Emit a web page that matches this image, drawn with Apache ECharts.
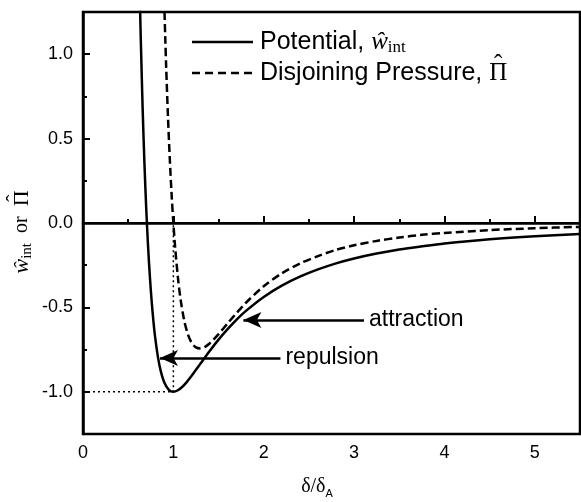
<!DOCTYPE html>
<html>
<head>
<meta charset="utf-8">
<script src="https://cdn.jsdelivr.net/npm/echarts@6/dist/echarts.min.js"></script>
<style>
html,body{margin:0;padding:0;background:#fff;}
#chart{width:581px;height:502px;}
</style>
</head>
<body>
<div id="chart"></div>
<script>
// Potential curve
const potX = [0.632,0.64,0.66,0.68,0.70,0.72,0.74,0.76,0.78,0.80,0.83,0.86,0.90,0.95,1.0,1.05,1.1,1.15,1.2,1.25,1.3,1.4,1.5,1.6,1.7,1.8,2.0,2.2,2.4,2.6,2.8,3.0,3.25,3.5,3.75,4.0,4.5,5.0,5.5];
const potY = [1.26,1.078,0.679,0.352,0.083,-0.137,-0.317,-0.465,-0.586,-0.684,-0.796,-0.876,-0.945,-0.988,-1.0,-0.991,-0.970,-0.941,-0.907,-0.870,-0.833,-0.760,-0.691,-0.629,-0.572,-0.522,-0.438,-0.371,-0.318,-0.275,-0.239,-0.210,-0.181,-0.157,-0.138,-0.121,-0.096,-0.078,-0.065];
// Disjoining pressure curve
const piX = [0.902,0.91,0.92,0.94,0.96,0.98,1.0,1.02,1.05,1.08,1.12,1.16,1.2,1.25,1.3,1.35,1.4,1.5,1.6,1.7,1.8,2.0,2.2,2.4,2.6,2.8,3.0,3.25,3.5,3.75,4.0,4.5,5.0,5.5];
const piY = [1.25,1.102,0.932,0.634,0.385,0.175,0,-0.146,-0.321,-0.453,-0.577,-0.658,-0.707,-0.737,-0.743,-0.734,-0.714,-0.658,-0.595,-0.533,-0.474,-0.375,-0.298,-0.240,-0.196,-0.159,-0.132,-0.106,-0.086,-0.070,-0.059,-0.042,-0.031,-0.023];
// Dotted guide to the minimum
const guideX = [0, 1, 1];
const guideY = [-1, -1, 0];
// Tick labels
const xTicks = [0, 1, 2, 3, 4, 5];
const xMinor = [0.5, 1.5, 2.5, 3.5, 4.5, 5.5];
const yTicks = [-1.0, -0.5, 0.0, 0.5, 1.0];
const yMinor = [-0.75, -0.25, 0.25, 0.75];
// Annotation arrows: [tipX, tailX, y, label]
const attraction = [1.775, 3.11, -0.575, 'attraction'];
const repulsion = [0.852, 2.185, -0.80, 'repulsion'];
// Series names (legend)
const seriesNames = ['Potential', 'Disjoining Pressure'];

const zip = (a, b) => a.map((v, i) => [v, b[i]]);
const SANS = '"Liberation Sans", Arial, sans-serif';
const SERIF = '"Liberation Serif", "Times New Roman", serif';

const mctx = document.createElement('canvas').getContext('2d');
function tw(font, s) { mctx.font = font; return mctx.measureText(s).width; }
function fontStr(p) { return (p.italic ? 'italic ' : '') + p.size + 'px ' + p.family; }

// Lay out text pieces left to right; returns graphic text elements
function pieces(list, x0, y0) {
  const out = [];
  let x = x0;
  list.forEach(p => {
    const f = fontStr(p);
    const w = tw(f, p.t);
    out.push({type: 'text', x: x, y: y0 + (p.dy || 0), silent: true,
      style: {text: p.t, font: f, fill: '#000', align: 'left', verticalAlign: 'middle'}});
    if (p.hat) {
      out.push({type: 'text', x: x + w / 2, y: y0 - p.size * 0.30, silent: true,
        style: {text: 'ˆ', font: p.size + 'px ' + SERIF, fill: '#000', align: 'center', verticalAlign: 'middle'}});
    }
    x += w;
  });
  return out;
}
function piecesWidth(list) { return list.reduce((s, p) => s + tw(fontStr(p), p.t), 0); }

const chart = echarts.init(document.getElementById('chart'));

function arrowLine(a) {
  return {
    type: 'line', data: [], silent: true,
    markLine: {
      silent: true, animation: false,
      symbol: ['arrow', 'none'], symbolSize: [12, 18],
      lineStyle: {color: '#000', width: 2.5, type: 'solid'},
      label: {show: true, position: 'end', formatter: a[3], color: '#000', fontSize: 23, fontFamily: SANS, distance: 5},
      data: [[{coord: [a[0], a[2]]}, {coord: [a[1], a[2]]}]]
    }
  };
}

// Legend (drawn as graphic)
const leg1 = [{t: seriesNames[0] + ', ', size: 25, family: SANS},
              {t: 'ŵ', size: 25, family: SERIF, italic: true},
              {t: 'int', size: 17, family: SERIF, dy: 6}];
const leg2 = [{t: seriesNames[1] + ', ', size: 25, family: SANS},
              {t: 'Π', size: 25, family: SERIF, hat: true}];
// y-axis title (in rotated local coords)
const ytitle = [{t: 'ŵ', size: 22, family: SERIF, italic: true},
                {t: 'int', size: 15, family: SERIF, dy: 5},
                {t: '  or  ', size: 20, family: SERIF},
                {t: 'Π', size: 22, family: SERIF, hat: true}];
const xtitle = [{t: 'δ/δ', size: 20, family: SERIF},
                {t: 'A', size: 11, family: SANS, dy: 7}];

const graphic = [
  {type: 'line', silent: true, shape: {x1: 192, y1: 42, x2: 253, y2: 42}, style: {stroke: '#000', lineWidth: 2.5}},
  {type: 'line', silent: true, shape: {x1: 192, y1: 73, x2: 253, y2: 73}, style: {stroke: '#000', lineWidth: 2.5, lineDash: [8, 5]}},
  ...pieces(leg1, 260, 42),
  ...pieces(leg2, 260, 73),
  ...pieces(xtitle, 317 - piecesWidth(xtitle) / 2, 487),
  {type: 'group', x: 22, y: 232, rotation: Math.PI / 2,
   children: pieces(ytitle, -piecesWidth(ytitle) / 2, 0)}
];

const option = {
  animation: false,
  grid: {left: 83, top: 12, right: 1, bottom: 68, show: true, borderColor: '#000', borderWidth: 2.5, backgroundColor: 'transparent'},
  xAxis: [{
    type: 'value', min: 0, max: 5.5, position: 'bottom',
    axisLine: {show: true, lineStyle: {color: '#000', width: 2.5}},
    axisTick: {show: true, inside: true, length: 7, lineStyle: {color: '#000', width: 2}, customValues: xTicks},
    axisLabel: {show: true, color: '#000', fontSize: 18, fontFamily: SANS, margin: 10, customValues: xTicks},
    splitLine: {show: false}
  }, {
    type: 'value', min: 0, max: 5.5, position: 'bottom',
    axisLine: {show: false},
    axisTick: {show: true, inside: true, length: 4, lineStyle: {color: '#000', width: 2}, customValues: xMinor},
    axisLabel: {show: false}, splitLine: {show: false}
  }],
  yAxis: [{
    type: 'value', min: -1.25, max: 1.25, position: 'left',
    axisLine: {show: true, lineStyle: {color: '#000', width: 2.5}},
    axisTick: {show: true, inside: true, length: 7, lineStyle: {color: '#000', width: 2}, customValues: yTicks},
    axisLabel: {show: true, color: '#000', fontSize: 18, fontFamily: SANS, margin: 10, customValues: yTicks,
      formatter: v => v.toFixed(1)},
    splitLine: {show: false}
  }, {
    type: 'value', min: -1.25, max: 1.25, position: 'left',
    axisLine: {show: false},
    axisTick: {show: true, inside: true, length: 4, lineStyle: {color: '#000', width: 2}, customValues: yMinor},
    axisLabel: {show: false}, splitLine: {show: false}
  }],
  graphic: graphic,
  series: [{
    name: seriesNames[0], type: 'line', data: zip(potX, potY),
    showSymbol: false, symbol: 'none', smooth: 0.3, clip: true,
    lineStyle: {color: '#000', width: 2.5, type: 'solid'},
    itemStyle: {color: '#000'},
    markLine: {
      silent: true, symbol: ['none', 'none'], label: {show: false},
      lineStyle: {color: '#000', width: 2, type: 'solid'},
      data: [{yAxis: 0}]
    }
  }, {
    name: seriesNames[1], type: 'line', data: zip(piX, piY),
    showSymbol: false, symbol: 'none', smooth: 0.3, clip: true,
    lineStyle: {color: '#000', width: 2.5, type: [8, 4]},
    itemStyle: {color: '#000'}
  }, {
    type: 'line', data: zip(guideX, guideY), showSymbol: false, symbol: 'none', silent: true,
    lineStyle: {color: '#000', width: 1.5, type: [2, 3]}
  },
  arrowLine(attraction), arrowLine(repulsion)]
};
chart.setOption(option);
</script>
</body>
</html>
